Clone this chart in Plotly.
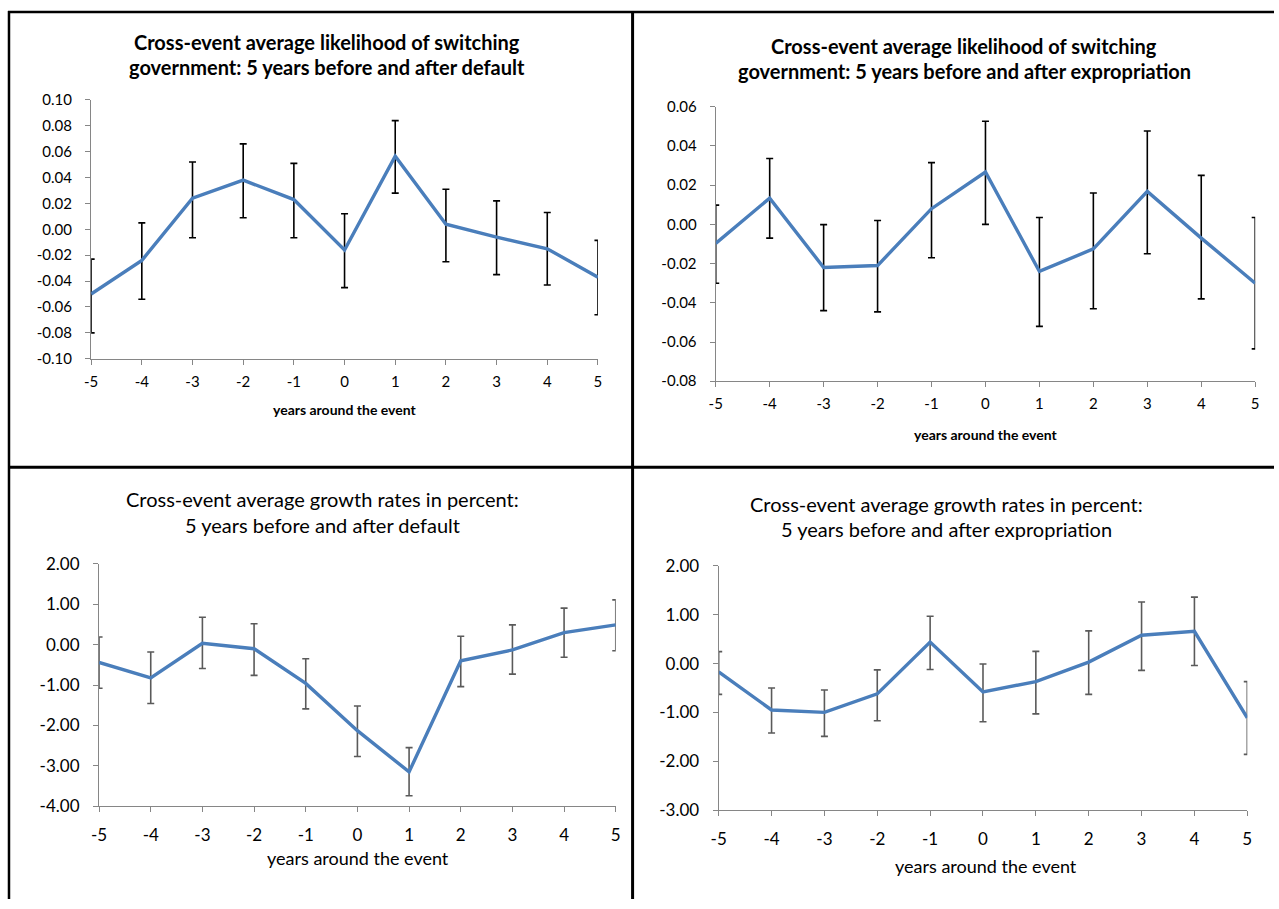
import plotly.graph_objects as go

# Years relative to the event
years = [-5, -4, -3, -2, -1, 0, 1, 2, 3, 4, 5]

# Likelihood of switching government around default
switch_default = [-0.050, -0.024, 0.024, 0.038, 0.023, -0.016, 0.0565, 0.004, -0.006, -0.015, -0.037]
switch_default_hi = [-0.023, 0.005, 0.052, 0.066, 0.051, 0.012, 0.084, 0.031, 0.022, 0.013, -0.0085]
switch_default_lo = [-0.080, -0.054, -0.0065, 0.009, -0.0065, -0.045, 0.028, -0.025, -0.035, -0.043, -0.066]

# Likelihood of switching government around expropriation
switch_expr = [-0.0097, 0.0134, -0.022, -0.021, 0.008, 0.0267, -0.024, -0.0125, 0.0168, -0.007, -0.030]
switch_expr_hi = [0.0098, 0.0336, -0.0001, 0.002, 0.0315, 0.0526, 0.0035, 0.016, 0.0476, 0.025, 0.0035]
switch_expr_lo = [-0.030, -0.007, -0.044, -0.0446, -0.017, 0.000, -0.052, -0.043, -0.015, -0.038, -0.0635]

# Growth rates (percent) around default
growth_default = [-0.44, -0.82, 0.035, -0.10, -0.96, -2.13, -3.15, -0.40, -0.13, 0.30, 0.49]
growth_default_hi = [0.19, -0.18, 0.68, 0.52, -0.35, -1.52, -2.55, 0.21, 0.49, 0.905, 1.11]
growth_default_lo = [-1.08, -1.455, -0.59, -0.76, -1.59, -2.77, -3.74, -1.04, -0.73, -0.31, -0.15]

# Growth rates (percent) around expropriation
growth_expr = [-0.17, -0.95, -1.00, -0.62, 0.44, -0.58, -0.37, 0.03, 0.58, 0.66, -1.11]
growth_expr_hi = [0.245, -0.50, -0.54, -0.13, 0.97, -0.01, 0.25, 0.67, 1.26, 1.36, -0.37]
growth_expr_lo = [-0.63, -1.42, -1.49, -1.17, -0.12, -1.19, -1.03, -0.63, -0.14, -0.04, -1.86]

W, H = 1279, 909
FONT = "Lato"
LINE_BLUE = "#4A7EBB"
AXIS_GREY = "#868686"


def px_x(p):
    return p / W


def px_y(p):
    return 1 - p / H


panels = [
    dict(mean=switch_default, hi=switch_default_hi, lo=switch_default_lo,
         xd=(84, 596), yd=(356, 91), yr=(-0.10, 0.10), dt=0.02, err="#000000",
         tickfont=15, xstand=4, ystand=10),
    dict(mean=switch_expr, hi=switch_expr_hi, lo=switch_expr_lo,
         xd=(715, 1260), yd=(379, 98), yr=(-0.08, 0.06), dt=0.02, err="#000000",
         tickfont=15, xstand=4, ystand=10),
    dict(mean=growth_default, hi=growth_default_hi, lo=growth_default_lo,
         xd=(92, 614), yd=(814, 566), yr=(-4.0, 2.0), dt=1.0, err="#5A5A5A",
         tickfont=17, xstand=8, ystand=10),
    dict(mean=growth_expr, hi=growth_expr_hi, lo=growth_expr_lo,
         xd=(718, 1252), yd=(818, 568), yr=(-3.0, 2.0), dt=1.0, err="#5A5A5A",
         tickfont=17, xstand=8, ystand=10),
]

fig = go.Figure()
layout = {}

for i, p in enumerate(panels, start=1):
    plus = [h - m for h, m in zip(p["hi"], p["mean"])]
    minus = [m - l for m, l in zip(p["mean"], p["lo"])]
    sfx = "" if i == 1 else str(i)
    fig.add_trace(go.Scatter(
        x=years, y=p["mean"], mode="lines",
        line=dict(color=LINE_BLUE, width=3.4),
        error_y=dict(type="data", symmetric=False, array=plus, arrayminus=minus,
                     color=p["err"], thickness=1.6, width=3.5),
        xaxis="x" + sfx, yaxis="y" + sfx, showlegend=False, hoverinfo="skip",
    ))
    n_ticks = int(round((p["yr"][1] - p["yr"][0]) / p["dt"]))
    tickvals = [round(p["yr"][0] + k * p["dt"], 4) for k in range(n_ticks + 1)]
    ticktext = ["%.2f" % v if abs(v) > 1e-9 else "0.00" for v in tickvals]
    layout["xaxis" + sfx] = dict(
        domain=[px_x(p["xd"][0]), px_x(p["xd"][1])], range=[-5, 5],
        anchor="y" + sfx, tickvals=years, ticktext=[str(y) for y in years],
        showline=True, linecolor=AXIS_GREY, linewidth=1.3,
        ticks="outside", ticklen=5, tickcolor=AXIS_GREY, tickwidth=1.3,
        ticklabelstandoff=p["xstand"],
        showgrid=False, zeroline=False,
        tickfont=dict(family=FONT, size=p["tickfont"], color="#000000"),
    )
    layout["yaxis" + sfx] = dict(
        domain=[px_y(p["yd"][0]), px_y(p["yd"][1])], range=list(p["yr"]),
        anchor="x" + sfx, tickvals=tickvals, ticktext=ticktext,
        showline=True, linecolor=AXIS_GREY, linewidth=1.3,
        ticks="outside", ticklen=5, tickcolor=AXIS_GREY, tickwidth=1.3,
        ticklabelstandoff=p["ystand"],
        showgrid=False, zeroline=False,
        tickfont=dict(family=FONT, size=p["tickfont"], color="#000000"),
    )

annotations = []


def add_text(text, x, y, size, bold):
    annotations.append(dict(
        text="<b>%s</b>" % text if bold else text,
        x=px_x(x), y=px_y(y), xref="paper", yref="paper",
        xanchor="center", yanchor="middle", showarrow=False,
        font=dict(family=FONT, size=size, color="#000000"),
    ))


# Panel titles
add_text("Cross-event average likelihood of switching", 322, 32, 20, True)
add_text("government: 5 years before and after default", 322, 57, 20, True)
add_text("Cross-event average likelihood of switching", 966, 36, 20, True)
add_text("government: 5 years before and after expropriation", 966, 61, 20, True)
add_text("Cross-event average growth rates in percent:", 318, 500, 20, False)
add_text("5 years before and after default", 318, 526, 20, False)
add_text("Cross-event average growth rates in percent:", 948, 505, 20, False)
add_text("5 years before and after expropriation", 948, 530, 20, False)

# Axis titles
add_text("years around the event", 340, 408, 14, True)
add_text("years around the event", 988, 434, 14, True)
add_text("years around the event", 354, 867, 18, False)
add_text("years around the event", 988, 875, 18, False)

# Panel frame lines
shapes = [
    dict(type="line", xref="paper", yref="paper", x0=0, x1=1,
         y0=px_y(1), y1=px_y(1), line=dict(color="#000000", width=2.5)),
    dict(type="line", xref="paper", yref="paper", x0=px_x(1), x1=px_x(1),
         y0=0, y1=1, line=dict(color="#000000", width=2.5)),
    dict(type="line", xref="paper", yref="paper", x0=px_x(631), x1=px_x(631),
         y0=0, y1=1, line=dict(color="#000000", width=3)),
    dict(type="line", xref="paper", yref="paper", x0=0, x1=1,
         y0=px_y(467), y1=px_y(467), line=dict(color="#000000", width=3)),
]

fig.update_layout(
    width=W, height=H, margin=dict(l=0, r=0, t=0, b=0),
    paper_bgcolor="#FFFFFF", plot_bgcolor="#FFFFFF",
    annotations=annotations, shapes=shapes, showlegend=False,
    **layout,
)

fig.write_html("out.html")
